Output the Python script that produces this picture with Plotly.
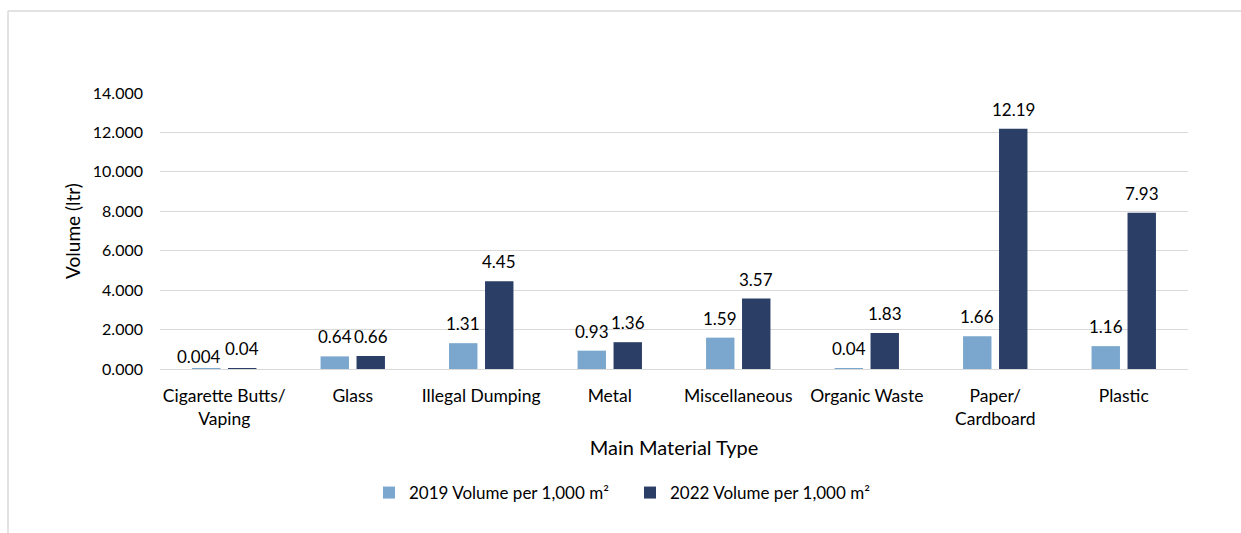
import plotly.graph_objects as go

# Litter volume per 1,000 m² by main material type
categories = [
    "Cigarette Butts/<br>Vaping",
    "Glass",
    "Illegal Dumping",
    "Metal",
    "Miscellaneous",
    "Organic Waste",
    "Paper/<br>Cardboard",
    "Plastic",
]
volume_2019 = [0.004, 0.64, 1.31, 0.93, 1.59, 0.04, 1.66, 1.16]
volume_2022 = [0.04, 0.66, 4.45, 1.36, 3.57, 1.83, 12.19, 7.93]
labels_2019 = ["0.004", "0.64", "1.31", "0.93", "1.59", "0.04", "1.66", "1.16"]
labels_2022 = ["0.04", "0.66", "4.45", "1.36", "3.57", "1.83", "12.19", "7.93"]
y_ticks = [0, 2, 4, 6, 8, 10, 12, 14]

FONT = "Lato"
LIGHT = "#7BA7CE"
DARK = "#2B3E66"
GRID = "#D9D9D9"
LABEL_SIZE = 17
BARGAP, GROUPGAP = 0.44, 0.21

L, R, T, B = 160, 53, 93, 164
W, H = 1241, 533
pw, ph = W - L - R, H - T - B

def px_x(v):
    return (v - L) / pw

def px_y(v):
    return (H - B - v) / ph

fig = go.Figure()
series = [
    (volume_2019, labels_2019, "2019 Volume per 1,000 m²", LIGHT),
    (volume_2022, labels_2022, "2022 Volume per 1,000 m²", DARK),
]
for vals, _, name, color in series:
    fig.add_trace(go.Bar(
        x=categories, y=vals, name=name,
        marker=dict(color=color, line=dict(width=0)),
    ))

# value labels above each bar, offset to the bar's slot within its group
slot = pw / len(categories) * (1 - BARGAP) / len(series)
for s, (vals, labels, _, _) in enumerate(series):
    dx = (s - (len(series) - 1) / 2) * slot
    for i, (cat, v, lab) in enumerate(zip(categories, vals, labels)):
        xs, ys = dx, 7
        if s == 0 and i == 0:
            # keep the tiny 2019 label clear of its neighbour
            xs, ys = dx - 7, 0
        fig.add_annotation(
            x=cat, y=v, text=lab, xref="x", yref="y", showarrow=False,
            xanchor="center", yanchor="bottom", xshift=xs, yshift=ys,
            font=dict(family=FONT, size=LABEL_SIZE, color="#000000"),
        )

fig.update_layout(
    width=W, height=H,
    margin=dict(l=L, r=R, t=T, b=B),
    paper_bgcolor="white", plot_bgcolor="white",
    font=dict(family=FONT, size=16, color="#000000"),
    barmode="group", bargap=BARGAP, bargroupgap=GROUPGAP,
    showlegend=True,
    legend=dict(
        orientation="h", x=px_x(630), xanchor="center", y=px_y(493), yanchor="middle",
        font=dict(family=FONT, size=17), itemwidth=30, traceorder="normal",
        entrywidth=216,
    ),
    shapes=[
        # light frame edges around the chart
        dict(type="line", xref="paper", yref="paper",
             x0=px_x(8), x1=px_x(W + 5), y0=px_y(11), y1=px_y(11),
             line=dict(color="#D9D9D9", width=1.5)),
        dict(type="line", xref="paper", yref="paper",
             x0=px_x(8), x1=px_x(8), y0=px_y(11), y1=px_y(H + 5),
             line=dict(color="#D9D9D9", width=1.5)),
    ],
)
fig.update_xaxes(
    showgrid=False, showline=True, linecolor=GRID, linewidth=1,
    ticks="", ticklabelstandoff=11, tickfont=dict(family=FONT, size=17.5),
    title=dict(text="Main Material Type", font=dict(family=FONT, size=20), standoff=13),
)
fig.update_yaxes(
    range=[0, 14], tickvals=y_ticks, tickformat=".3f",
    showgrid=True, gridcolor=GRID, gridwidth=1, zeroline=False,
    showline=False, ticks="", ticklabelstandoff=16,
    tickfont=dict(family=FONT, size=16),
    title=dict(text="Volume (ltr)", font=dict(family=FONT, size=19), standoff=7),
)

fig.write_html("out.html")
